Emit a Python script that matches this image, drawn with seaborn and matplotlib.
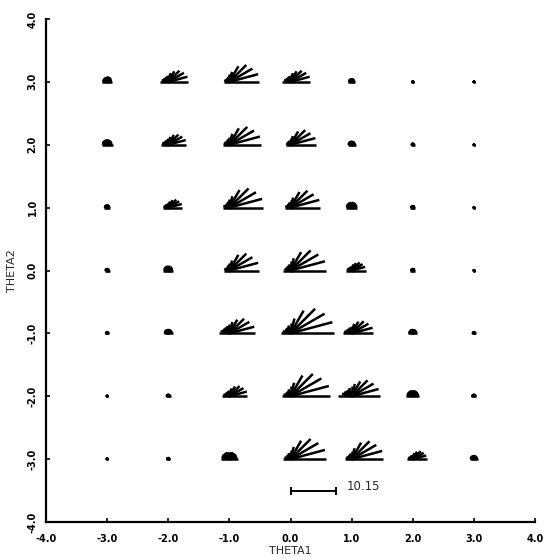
import numpy as np
import pandas as pd
import matplotlib
matplotlib.use("Agg")
import matplotlib.pyplot as plt
import seaborn as sns
from matplotlib.collections import LineCollection

# ---- data ----
theta1 = [-3, -2, -1, 0, 1, 2, 3]
theta2_rows = [3, 2, 1, 0, -1, -2, -3]
ray_angles_deg = [0, 15, 30, 45, 60, 75, 90, 105, 120, 135, 150, 165, 180]

# ray lengths for each glyph (same units as the 10.15 scale bar), row by row, left to right
row_p3 = [
    [1.1, 1.1, 1.1, 1.2, 1.2, 1.2, 1.2, 1.1, 1.1, 1.1, 1.1, 1.1, 1.1],
    [4.4, 4.4, 4.0, 3.5, 2.7, 2.0, 1.5, 1.3, 1.2, 1.2, 1.3, 1.5, 1.8],
    [6.6, 6.6, 5.9, 5.3, 4.0, 2.3, 1.7, 1.2, 1.0, 1.0, 1.0, 1.2, 1.3],
    [4.4, 4.4, 4.0, 3.5, 2.7, 2.0, 1.5, 1.3, 1.2, 1.2, 1.3, 1.5, 1.8],
    [0.8, 0.8, 0.8, 0.8, 0.8, 0.8, 0.8, 0.8, 0.8, 0.8, 0.8, 0.8, 0.8],
    [0.3, 0.3, 0.3, 0.3, 0.3, 0.3, 0.3, 0.3, 0.3, 0.3, 0.3, 0.3, 0.3],
    [0.25, 0.25, 0.25, 0.25, 0.25, 0.25, 0.25, 0.25, 0.25, 0.25, 0.25, 0.25, 0.25],
]
row_p2 = [
    [1.2, 1.2, 1.2, 1.2, 1.2, 1.2, 1.2, 1.2, 1.2, 1.2, 1.2, 1.2, 1.2],
    [4.0, 4.0, 3.6, 3.2, 2.5, 1.8, 1.4, 1.2, 1.1, 1.1, 1.2, 1.4, 1.6],
    [7.0, 7.0, 6.3, 5.6, 4.2, 2.5, 1.8, 1.3, 1.1, 1.1, 1.1, 1.3, 1.4],
    [5.7, 5.7, 5.1, 4.6, 3.4, 2.0, 1.4, 1.0, 0.9, 0.9, 0.9, 1.0, 1.1],
    [0.9, 0.9, 0.9, 0.9, 0.9, 0.9, 0.9, 0.9, 0.9, 0.9, 0.9, 0.9, 0.9],
    [0.45, 0.45, 0.45, 0.45, 0.45, 0.45, 0.45, 0.45, 0.45, 0.45, 0.45, 0.45, 0.45],
    [0.25, 0.25, 0.25, 0.25, 0.25, 0.25, 0.25, 0.25, 0.25, 0.25, 0.25, 0.25, 0.25],
]
row_p1 = [
    [0.7, 0.7, 0.7, 0.7, 0.7, 0.7, 0.7, 0.7, 0.7, 0.7, 0.7, 0.7, 0.7],
    [3.1, 3.1, 2.8, 2.5, 1.9, 1.4, 1.1, 0.9, 0.9, 0.9, 0.9, 1.1, 1.2],
    [7.5, 7.5, 6.8, 6.0, 4.5, 2.6, 1.9, 1.4, 1.1, 1.1, 1.1, 1.4, 1.5],
    [6.6, 6.6, 5.9, 5.3, 4.0, 2.3, 1.7, 1.2, 1.0, 1.0, 1.0, 1.2, 1.3],
    [1.3, 1.3, 1.3, 1.3, 1.3, 1.3, 1.3, 1.3, 1.3, 1.3, 1.3, 1.3, 1.3],
    [0.55, 0.55, 0.55, 0.55, 0.55, 0.55, 0.55, 0.55, 0.55, 0.55, 0.55, 0.55, 0.55],
    [0.25, 0.25, 0.25, 0.25, 0.25, 0.25, 0.25, 0.25, 0.25, 0.25, 0.25, 0.25, 0.25],
]
row_0 = [
    [0.55, 0.55, 0.55, 0.55, 0.55, 0.55, 0.55, 0.55, 0.55, 0.55, 0.55, 0.55, 0.55],
    [1.1, 1.1, 1.1, 1.1, 1.1, 1.1, 1.1, 1.1, 1.1, 1.1, 1.1, 1.1, 1.1],
    [6.6, 6.6, 5.9, 5.3, 4.0, 2.3, 1.7, 1.2, 1.0, 1.0, 1.0, 1.2, 1.3],
    [7.9, 7.9, 7.1, 6.3, 4.7, 2.8, 2.0, 1.4, 1.2, 1.2, 1.2, 1.4, 1.6],
    [3.1, 3.1, 2.8, 2.5, 1.9, 1.4, 1.1, 0.9, 0.9, 0.9, 0.9, 1.1, 1.2],
    [0.55, 0.55, 0.55, 0.55, 0.55, 0.55, 0.55, 0.55, 0.55, 0.55, 0.55, 0.55, 0.55],
    [0.25, 0.25, 0.25, 0.25, 0.25, 0.25, 0.25, 0.25, 0.25, 0.25, 0.25, 0.25, 0.25],
]
row_m1 = [
    [0.45, 0.45, 0.45, 0.45, 0.45, 0.45, 0.45, 0.45, 0.45, 0.45, 0.45, 0.45, 0.45],
    [1.0, 1.0, 1.0, 1.0, 1.0, 1.0, 1.0, 1.0, 1.0, 1.0, 1.0, 1.0, 1.0],
    [5.7, 5.7, 5.1, 4.6, 3.5, 2.6, 2.0, 1.7, 1.6, 1.6, 1.7, 2.0, 2.3],
    [9.6, 9.6, 8.7, 7.7, 5.8, 3.4, 2.4, 1.8, 1.5, 1.5, 1.5, 1.8, 2.0],
    [4.8, 4.8, 4.3, 3.8, 3.0, 2.2, 1.7, 1.4, 1.3, 1.3, 1.4, 1.7, 1.9],
    [1.0, 1.0, 1.0, 1.0, 1.0, 1.0, 1.0, 1.0, 1.0, 1.0, 1.0, 1.0, 1.0],
    [0.45, 0.45, 0.45, 0.45, 0.45, 0.45, 0.45, 0.45, 0.45, 0.45, 0.45, 0.45, 0.45],
]
row_m2 = [
    [0.3, 0.3, 0.3, 0.3, 0.3, 0.3, 0.3, 0.3, 0.3, 0.3, 0.3, 0.3, 0.3],
    [0.55, 0.55, 0.55, 0.55, 0.55, 0.55, 0.55, 0.55, 0.55, 0.55, 0.55, 0.55, 0.55],
    [4.0, 4.0, 3.6, 3.2, 2.5, 1.8, 1.4, 1.2, 1.1, 1.1, 1.2, 1.4, 1.6],
    [8.8, 8.8, 7.9, 7.0, 5.3, 3.1, 2.2, 1.6, 1.3, 1.3, 1.3, 1.6, 1.8],
    [6.2, 6.2, 5.6, 5.0, 3.8, 2.8, 2.2, 1.9, 1.7, 1.7, 1.9, 2.2, 3.0],
    [1.4, 1.4, 1.4, 1.4, 1.4, 1.4, 1.4, 1.4, 1.4, 1.4, 1.4, 1.4, 1.4],
    [0.55, 0.55, 0.55, 0.55, 0.55, 0.55, 0.55, 0.55, 0.55, 0.55, 0.55, 0.55, 0.55],
]
row_m3 = [
    [0.3, 0.3, 0.3, 0.3, 0.3, 0.3, 0.3, 0.3, 0.3, 0.3, 0.3, 0.3, 0.3],
    [0.45, 0.45, 0.45, 0.45, 0.45, 0.45, 0.45, 0.45, 0.45, 0.45, 0.45, 0.45, 0.45],
    [1.8, 1.8, 1.8, 1.7, 1.7, 1.6, 1.6, 1.6, 1.7, 1.7, 1.8, 1.8, 1.8],
    [7.9, 7.9, 7.1, 6.3, 4.7, 2.8, 2.0, 1.4, 1.2, 1.2, 1.2, 1.4, 1.6],
    [7.0, 7.0, 6.3, 5.6, 4.2, 2.5, 1.8, 1.3, 1.1, 1.1, 1.1, 1.3, 1.4],
    [3.1, 3.1, 2.8, 2.5, 1.9, 1.4, 1.1, 0.9, 0.9, 0.9, 0.9, 1.1, 1.2],
    [0.9, 0.9, 0.9, 0.9, 0.9, 0.9, 0.9, 0.9, 0.9, 0.9, 0.9, 0.9, 0.9],
]
rows = [row_p3, row_p2, row_p1, row_0, row_m1, row_m2, row_m3]

scale_value = 10.15
scale_length = 0.75          # length of the scale bar in THETA1 units
x_ticks = [-4, -3, -2, -1, 0, 1, 2, 3, 4]
y_ticks = [-4, -3, -2, -1, 0, 1, 2, 3, 4]
tick_labels = ["-4.0", "-3.0", "-2.0", "-1.0", "0.0", "1.0", "2.0", "3.0", "4.0"]

# ---- figure ----
sns.set_style("ticks")
plt.rcParams["font.family"] = ["DejaVu Sans"]

W, H = 554, 560
fig = plt.figure(figsize=(W / 100, H / 100), dpi=100)
ax_l, ax_r, ax_t, ax_b = 46, 535, 19, 522
ax = fig.add_axes([ax_l / W, (H - ax_b) / H, (ax_r - ax_l) / W, (ax_b - ax_t) / H])
ax.set_xlim(-4, 4)
ax.set_ylim(-4, 4)

px_per_x = (ax_r - ax_l) / 8.0
px_per_y = (ax_b - ax_t) / 8.0
sx = scale_length / scale_value
sy = sx * px_per_x / px_per_y

centers = pd.DataFrame(
    [(t1, t2) for t2 in theta2_rows for t1 in theta1], columns=["theta1", "theta2"]
)
sns.scatterplot(data=centers, x="theta1", y="theta2", ax=ax, color="black",
                s=3, marker="o", linewidth=0, legend=False, zorder=3)

ang = np.deg2rad(ray_angles_deg)
segs = []
for t2, row in zip(theta2_rows, rows):
    for t1, lengths in zip(theta1, row):
        for a, v in zip(ang, lengths):
            segs.append([(t1, t2), (t1 + v * sx * np.cos(a), t2 + v * sy * np.sin(a))])
lc = LineCollection(segs, colors="black", linewidths=1.8, capstyle="butt", zorder=3)
ax.add_collection(lc)

# scale bar
bar_y = -3.51
ax.errorbar([scale_length / 2], [bar_y], xerr=[scale_length / 2], color="black",
            lw=1.4, capsize=3, capthick=1.4)
ax.text(scale_length + 0.17, bar_y + 0.07, f"{scale_value:.2f}", fontsize=8.5,
        va="center", ha="left")

# axes styling
for side in ["top", "right"]:
    ax.spines[side].set_visible(False)
for side in ["left", "bottom"]:
    ax.spines[side].set_linewidth(1.6)
    ax.spines[side].set_color("black")
ax.set_xticks(x_ticks)
ax.set_xticklabels(tick_labels, fontsize=7, fontweight="bold")
ax.set_yticks(y_ticks)
ax.set_yticklabels(tick_labels, fontsize=7, fontweight="bold", rotation=90, va="center")
ax.tick_params(direction="in", length=3, width=1.2, colors="black")
ax.tick_params(axis="x", pad=9)
ax.tick_params(axis="y", pad=6)
ax.set_xlabel("THETA1", fontsize=8, labelpad=1)
ax.set_ylabel("THETA2", fontsize=8, labelpad=8)

fig.savefig("out.png", dpi=100, facecolor="white")
